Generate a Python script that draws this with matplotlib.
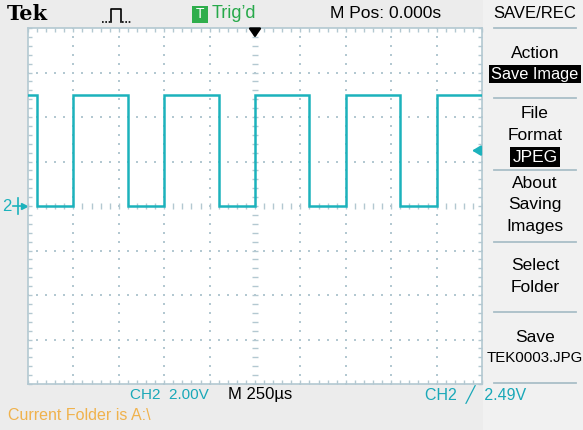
import numpy as np
import matplotlib.pyplot as plt
import matplotlib.transforms as mtransforms
from matplotlib.lines import Line2D
from matplotlib.patches import Rectangle

plt.rcParams["font.family"] = ["Liberation Sans", "DejaVu Sans"]

W, H = 583, 430

# scope settings shown on screen
volts_per_div = 2.0
time_per_div = 250.0  # us
n_hdiv, n_vdiv = 10, 8
trig_level = 2.49

# CH2 square wave (us, V)
high_v = 5.0
low_v = 0.0
fall_times = [-1200, -700, -200, 300, 800]
rise_times = [-1000, -500, 0, 500, 1000]

menu_title = "SAVE/REC"
menu_lines = ["Action", "Save Image", "File", "Format", "JPEG", "About", "Saving",
              "Images", "Select", "Folder", "Save", "TEK0003.JPG"]
menu_inverted = ["Save Image", "JPEG"]
menu_ypix = [53, 74, 113, 135, 157, 183, 205, 227, 266, 288, 337, 358]
separators_ypix = [28, 98, 170, 242, 312, 383]

trace_c = "#1cb2bc"
grid_c = "#b3c8d1"
bg = "#ececec"


def fx(x):
    return x / W


def fy(y):
    return 1 - y / H


fig = plt.figure(figsize=(W / 100, H / 100), dpi=100, facecolor=bg)

# right menu panel
fig.add_artist(Rectangle((fx(483), 0), 1 - fx(483), 1, transform=fig.transFigure,
                         facecolor="#f1f1f1", edgecolor="none", zorder=0))

ax = fig.add_axes([fx(28), fy(384), 454 / W, 356 / H])
ax.set_facecolor("white")
xmax = n_hdiv / 2 * time_per_div
ymax = n_vdiv / 2 * volts_per_div
ax.set_xlim(-xmax, xmax)
ax.set_ylim(-ymax, ymax)
for s in ax.spines.values():
    s.set_color(grid_c)
    s.set_linewidth(1.2)

xminor = np.arange(-xmax, xmax + 1, time_per_div / 5)
yminor = np.arange(-ymax, ymax + 0.01, volts_per_div / 5)
ax.set_xticks(xminor)
ax.set_yticks(yminor)
ax.tick_params(axis="both", direction="in", length=3, width=1, color=grid_c,
               top=True, right=True, labelbottom=False, labelleft=False)

# graticule dots
for xg in np.arange(-xmax + time_per_div, xmax, time_per_div):
    if xg == 0:
        ax.plot(np.full_like(yminor, xg), yminor, ls="none", marker="_", ms=5,
                mew=1, color=grid_c)
    else:
        ax.plot(np.full_like(yminor, xg), yminor, ls="none", marker="s", ms=1.5,
                mew=0, color=grid_c)
for yg in np.arange(-ymax + volts_per_div, ymax, volts_per_div):
    if yg == 0:
        ax.plot(xminor, np.full_like(xminor, yg), ls="none", marker="|", ms=5,
                mew=1, color=grid_c)
    else:
        ax.plot(xminor, np.full_like(xminor, yg), ls="none", marker="s", ms=1.5,
                mew=0, color=grid_c)

# build the square wave
edges = sorted([(t, low_v) for t in fall_times] + [(t, high_v) for t in rise_times])
ts = [-xmax]
vs = [high_v]
for te, lev in edges:
    ts += [te, te]
    vs += [vs[-1], lev]
ts.append(xmax)
vs.append(vs[-1])
ax.plot(ts, vs, color=trace_c, lw=1.8, solid_joinstyle="miter", zorder=5)

# ground marker and trigger markers
blend = mtransforms.blended_transform_factory(ax.transAxes, ax.transData)
ax.text(-0.036, 0, "2", transform=blend, color=trace_c, fontsize=12,
        ha="right", va="center", clip_on=False)
ax.plot([-0.008], [0], marker=">", ms=4.5, color=trace_c, transform=blend,
        clip_on=False)
ax.plot([-0.034, -0.01], [0, 0], color=trace_c, lw=1.2, transform=blend,
        clip_on=False)
ax.plot([-0.022, -0.022], [-0.35, 0.35], color=trace_c, lw=1.2, transform=blend,
        clip_on=False)
ax.annotate("", xy=(0.972, trig_level), xytext=(0.998, trig_level),
            xycoords=blend, textcoords=blend,
            arrowprops=dict(arrowstyle="-|>,head_length=0.5,head_width=0.3",
                            color=trace_c, lw=1.5))
blend_x = mtransforms.blended_transform_factory(ax.transData, ax.transAxes)
ax.annotate("", xy=(0, 0.965), xytext=(0, 0.999), xycoords=blend_x, textcoords=blend_x,
            arrowprops=dict(arrowstyle="-|>,head_length=0.5,head_width=0.35",
                            color="black", lw=1.8))

# header
fig.text(fx(7), fy(14), "Tek", family="DejaVu Serif", fontweight="bold",
         fontsize=15, va="center", ha="left")
# pulse icon
fig.add_artist(Line2D([fx(x) for x in [111, 111, 121, 121]],
                      [fy(y) for y in [22, 9, 9, 22]], color="black", lw=1.2))
fig.add_artist(Line2D([fx(x) for x in [102, 110]], [fy(22)] * 2, color="black",
                      lw=1.2, ls=(0, (1, 1))))
fig.add_artist(Line2D([fx(x) for x in [122, 131]], [fy(22)] * 2, color="black",
                      lw=1.2, ls=(0, (1, 1))))
fig.add_artist(Rectangle((fx(192), fy(23)), 16 / W, 17 / H, transform=fig.transFigure,
                         facecolor="#2fae4c", edgecolor="none"))
fig.text(fx(200), fy(14.5), "T", color="white", fontsize=10, ha="center", va="center")
fig.text(fx(212), fy(14), "Trig\u2019d", color="#27a94a", fontsize=13, ha="left",
         va="center")
fig.text(fx(386), fy(14), "M Pos: 0.000s", color="black", fontsize=12.5,
         ha="center", va="center")
fig.text(fx(535), fy(14), menu_title, color="black", fontsize=12,
         ha="center", va="center")

# menu
for y in separators_ypix:
    fig.add_artist(Line2D([fx(494), fx(576)], [fy(y)] * 2, color="#a9bfc8", lw=1.3))
for label, y in zip(menu_lines, menu_ypix):
    size = 12.5
    if label == "Save Image":
        size = 11.8
    elif label == "TEK0003.JPG":
        size = 10.8
    if label in menu_inverted:
        fig.text(fx(535), fy(y), label, color="white", fontsize=size, ha="center",
                 va="center", bbox=dict(boxstyle="square,pad=0.12",
                                        facecolor="black", edgecolor="none"))
    else:
        fig.text(fx(535), fy(y), label, color="black", fontsize=size, ha="center",
                 va="center")

# status line
fig.text(fx(130), fy(395), "CH2  2.00V", color="#1aa8b8", fontsize=11,
         ha="left", va="center")
fig.text(fx(228), fy(395), "M 250\u00b5s", color="black", fontsize=12,
         ha="left", va="center")
fig.text(fx(425), fy(395), "CH2  \u2571  2.49V", color="#1aa8b8", fontsize=11.5,
         ha="left", va="center")
fig.text(fx(8), fy(415), "Current Folder is A:\\", color="#f0b24c", fontsize=11.5,
         ha="left", va="center")

fig.savefig("out.png", dpi=100, facecolor=bg)
